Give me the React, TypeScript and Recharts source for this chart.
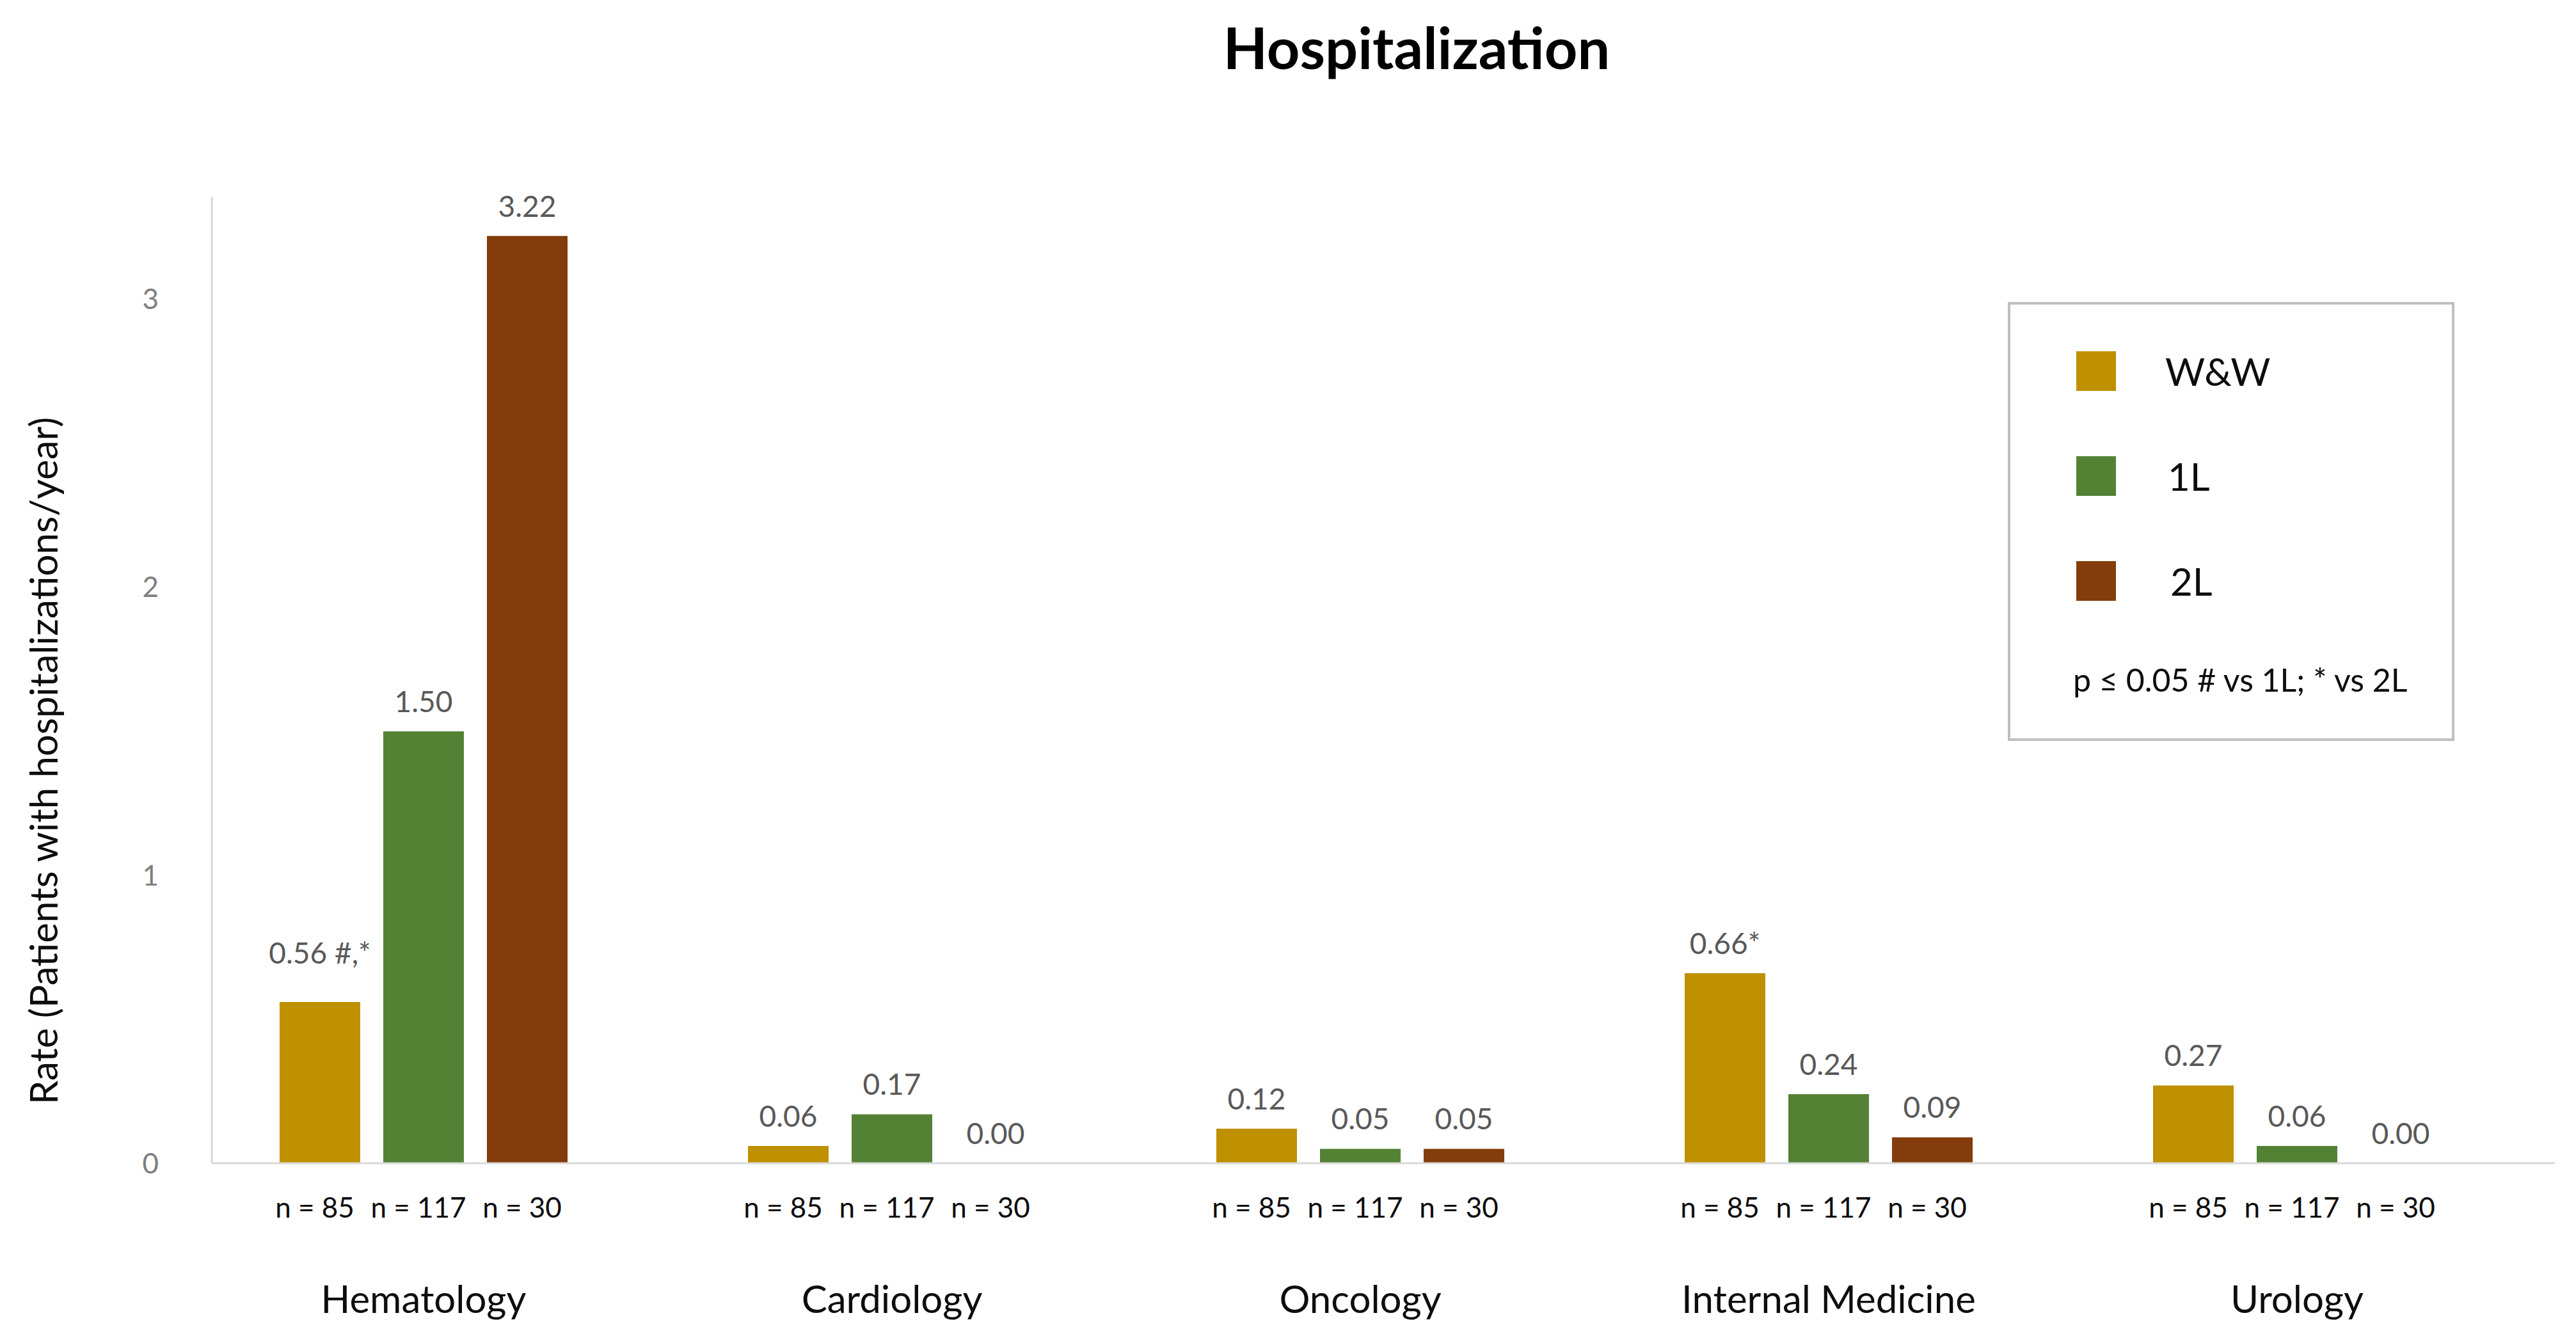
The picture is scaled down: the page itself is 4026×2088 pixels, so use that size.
import React from 'react';
import { BarChart, Bar, XAxis, YAxis, LabelList, Legend } from 'recharts';

const categories = ['Hematology', 'Cardiology', 'Oncology', 'Internal Medicine', 'Urology'];
const wwValues = [0.56, 0.06, 0.12, 0.66, 0.27];
const firstLineValues = [1.5, 0.17, 0.05, 0.24, 0.06];
const secondLineValues = [3.22, 0.0, 0.05, 0.09, 0.0];
const wwLabels = ['0.56 #,*', '0.06', '0.12', '0.66*', '0.27'];
const firstLineLabels = ['1.50', '0.17', '0.05', '0.24', '0.06'];
const secondLineLabels = ['3.22', '0.00', '0.05', '0.09', '0.00'];
const sampleSizes = ['n = 85', 'n = 117', 'n = 30'];
const yTicks = [0, 1, 2, 3];
const seriesNames = ['W&W', '1L', '2L'];
const seriesColors = ['#BF9000', '#548235', '#843C0C'];
const titleText = 'Hospitalization';
const yAxisTitle = 'Rate (Patients with hospitalizations/year)';
const noteText = 'p \u2264 0.05 # vs 1L; * vs 2L';

const data = categories.map((category, i) => ({
  category,
  ww: wwValues[i],
  l1: firstLineValues[i],
  l2: secondLineValues[i],
  wwLabel: wwLabels[i],
  l1Label: firstLineLabels[i],
  l2Label: secondLineLabels[i],
}));

const W = 4026;
const H = 2088;
const FONT = 'Lato, "Open Sans", sans-serif';
const BAR = 126;
const GAP = 36;

const CategoryTick = (props: any) => {
  const { x, y, payload } = props;
  const pitch = BAR + GAP;
  return (
    <g>
      {sampleSizes.map((s, i) => (
        <text
          key={i}
          x={x + (i - 1) * pitch - 8}
          y={y + 85}
          textAnchor="middle"
          fontFamily={FONT}
          fontSize={44}
          fill="#0d0d0d"
        >
          {s}
        </text>
      ))}
      <text x={x} y={y + 234} textAnchor="middle" fontFamily={FONT} fontSize={60} fill="#0d0d0d">
        {payload.value}
      </text>
    </g>
  );
};

const renderLegend = (props: any) => {
  const raw = props.payload || [];
  const payload = [...raw].sort(
    (a: any, b: any) => seriesNames.indexOf(a.value) - seriesNames.indexOf(b.value)
  );
  return (
    <div
      style={{
        width: 698,
        height: 686,
        boxSizing: 'border-box',
        border: '4px solid #bfbfbf',
        position: 'relative',
        background: '#fff',
        fontFamily: FONT,
        color: '#0d0d0d',
      }}
    >
      {payload.map((e: any, i: number) => (
        <div
          key={i}
          style={{
            position: 'absolute',
            left: 103,
            top: 73 + i * 164,
            display: 'flex',
            alignItems: 'center',
            height: 62,
          }}
        >
          <span style={{ width: 62, height: 62, background: e.color, display: 'inline-block' }} />
          <span style={{ marginLeft: 77 + i * 4, fontSize: 60, lineHeight: '62px' }}>{e.value}</span>
        </div>
      ))}
      <div
        style={{
          position: 'absolute',
          left: 98,
          top: 556,
          fontSize: 50,
          lineHeight: '60px',
          whiteSpace: 'nowrap',
        }}
      >
        {noteText}
      </div>
    </div>
  );
};

const labelStyle = { fontFamily: FONT, fontSize: 46, fill: '#595959' };

// Labels carrying significance marks sit a little higher above their bar, as in the source.
const ValueLabel = (props: any) => {
  const { x, y, width, value } = props;
  const marked = String(value).includes('#');
  return (
    <text
      x={x + width / 2}
      y={y - 30 - (marked ? 30 : 0)}
      textAnchor="middle"
      fontFamily={FONT}
      fontSize={46}
      fill="#595959"
    >
      {value}
    </text>
  );
};

export default function App() {
  return (
    <div style={{ position: 'absolute', left: 0, top: 0, width: W, height: H, background: '#fff' }}>
      <BarChart
        width={W}
        height={H}
        data={data}
        margin={{ top: 308, right: 33, bottom: 10, left: 0 }}
        barGap={GAP}
        barSize={BAR}
      >
        <XAxis
          dataKey="category"
          height={260}
          padding={{ left: -35, right: 37 }}
          axisLine={{ stroke: '#d9d9d9', strokeWidth: 3 }}
          tickLine={false}
          tickSize={0}
          tickMargin={0}
          interval={0}
          tick={<CategoryTick />}
        />
        <YAxis
          width={331}
          domain={[0, 3.355]}
          ticks={yTicks}
          allowDataOverflow
          axisLine={{ stroke: '#d9d9d9', strokeWidth: 3 }}
          tickLine={false}
          tickSize={0}
          tickMargin={83}
          tick={{ fontFamily: FONT, fontSize: 44, fill: '#7f7f7f' }}
        />
        <Legend
          verticalAlign="middle"
          align="center"
          layout="vertical"
          content={renderLegend}
          wrapperStyle={{ position: 'absolute', left: 3138, top: 472, width: 698, height: 686 }}
        />
        <Bar dataKey="ww" name={seriesNames[0]} fill={seriesColors[0]} minPointSize={0.01} isAnimationActive={false}>
          <LabelList dataKey="wwLabel" content={<ValueLabel />} />
        </Bar>
        <Bar dataKey="l1" name={seriesNames[1]} fill={seriesColors[1]} minPointSize={0.01} isAnimationActive={false}>
          <LabelList dataKey="l1Label" position="top" offset={30} style={labelStyle} />
        </Bar>
        <Bar dataKey="l2" name={seriesNames[2]} fill={seriesColors[2]} minPointSize={0.01} isAnimationActive={false}>
          <LabelList dataKey="l2Label" position="top" offset={30} style={labelStyle} />
        </Bar>
      </BarChart>
      <svg
        width={W}
        height={H}
        style={{ position: 'absolute', left: 0, top: 0, pointerEvents: 'none' }}
      >
        <text x={2214} y={108} textAnchor="middle" fontFamily={FONT} fontWeight={700} fontSize={90} fill="#000">
          {titleText}
        </text>
        <text
          x={0}
          y={0}
          transform="translate(90 1189) rotate(-90)"
          textAnchor="middle"
          fontFamily={FONT}
          fontSize={60}
          fill="#0d0d0d"
        >
          {yAxisTitle}
        </text>
      </svg>
    </div>
  );
}
